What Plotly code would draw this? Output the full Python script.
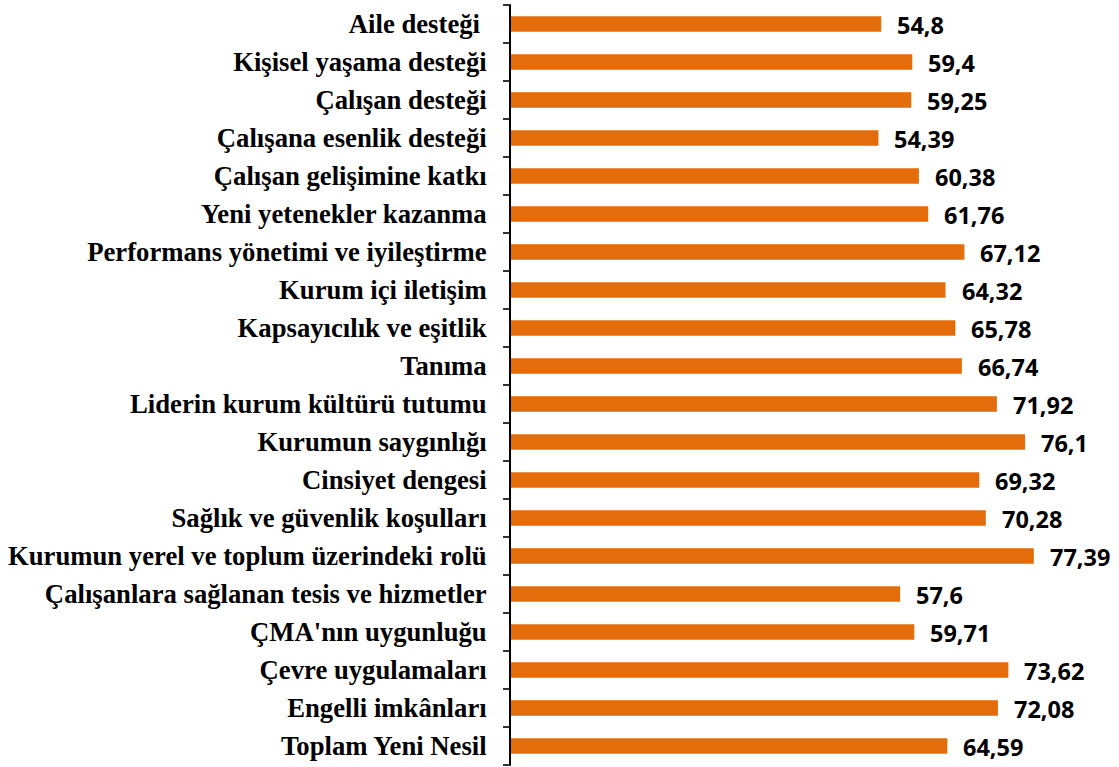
import plotly.graph_objects as go

categories = [
    "Aile desteği\u00a0",
    "Kişisel yaşama desteği",
    "Çalışan desteği",
    "Çalışana esenlik desteği",
    "Çalışan gelişimine katkı",
    "Yeni yetenekler kazanma",
    "Performans yönetimi ve iyileştirme",
    "Kurum içi iletişim",
    "Kapsayıcılık ve eşitlik",
    "Tanıma",
    "Liderin kurum kültürü tutumu",
    "Kurumun saygınlığı",
    "Cinsiyet dengesi",
    "Sağlık ve güvenlik koşulları",
    "Kurumun yerel ve toplum üzerindeki rolü",
    "Çalışanlara sağlanan tesis ve hizmetler",
    "ÇMA'nın uygunluğu",
    "Çevre uygulamaları",
    "Engelli imkânları",
    "Toplam Yeni Nesil",
]
values = [54.8, 59.4, 59.25, 54.39, 60.38, 61.76, 67.12, 64.32, 65.78, 66.74,
          71.92, 76.1, 69.32, 70.28, 77.39, 57.6, 59.71, 73.62, 72.08, 64.59]
value_labels = [str(v).replace(".", ",") for v in values]

BAR_COLOR = "#E46C0A"
n = len(categories)

W, H = 1119, 767
ML, MR, MT, MB = 511, 0, 5, 2
TICK_PX = 8
plot_w = W - ML - MR

fig = go.Figure()
fig.add_trace(go.Bar(
    x=values, y=categories, orientation="h",
    marker=dict(color=BAR_COLOR, line=dict(width=0)),
    width=0.41,
    hoverinfo="skip",
))

for v, c, t in zip(values, categories, value_labels):
    fig.add_annotation(
        x=v, y=c, text=t, showarrow=False,
        xanchor="left", yanchor="middle", xshift=14, yshift=-1,
        font=dict(family="Open Sans", size=23.5, color="black", weight="bold"),
    )

# category-boundary tick marks (Excel style), outside the axis line
for i in range(n + 1):
    fig.add_shape(
        type="line", xref="paper", yref="paper",
        x0=-TICK_PX / plot_w, x1=0, y0=i / n, y1=i / n,
        line=dict(color="black", width=1.6), layer="above",
    )

fig.update_layout(
    width=W, height=H,
    margin=dict(l=ML, r=MR, t=MT, b=MB),
    paper_bgcolor="white", plot_bgcolor="white",
    showlegend=False,
    xaxis=dict(range=[0, 90], visible=False,
               showgrid=False, zeroline=False, automargin=False),
    yaxis=dict(
        autorange="reversed",
        automargin=False,
        showline=True, linecolor="black", linewidth=2,
        ticks="",
        ticklabelstandoff=17,
        showgrid=False, zeroline=False,
        tickfont=dict(family="Liberation Serif", size=26.7, color="black", weight="bold"),
    ),
)

fig.write_html("out.html", config={"displayModeBar": False},
               post_script="document.body.style.margin='0px';")
